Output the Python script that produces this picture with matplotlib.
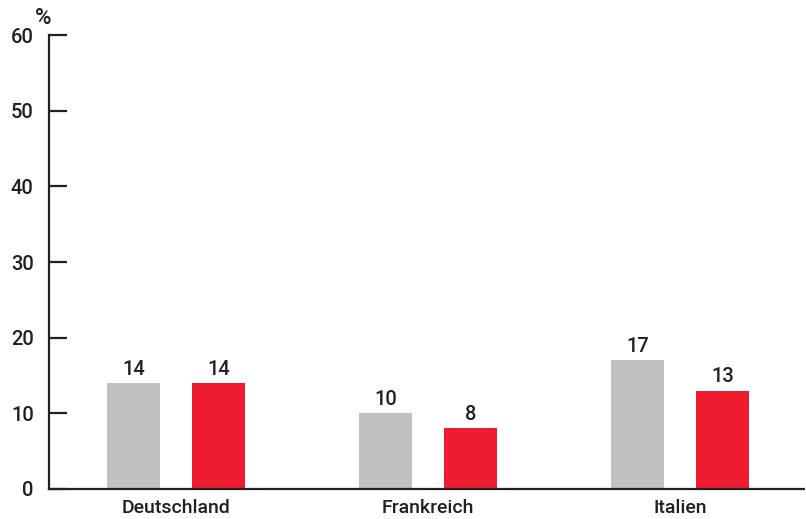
import numpy as np
import matplotlib.pyplot as plt

countries = ["Deutschland", "Frankreich", "Italien"]
grey_values = [14, 10, 17]
red_values = [14, 8, 13]
y_ticks = [0, 10, 20, 30, 40, 50, 60]

plt.rcParams["font.family"] = ["Roboto", "DejaVu Sans"]
plt.rcParams["font.weight"] = "medium"

dark = "#231f20"
grey = "#c0c1c3"
red = "#ed1c2e"

fig = plt.figure(figsize=(8.06, 5.19), dpi=100)
ax = fig.add_axes([49 / 806, 1 - 489 / 519, 755 / 806, (489 - 35) / 519])

x = np.arange(len(countries))
w = 0.21
off = 0.169
b1 = ax.bar(x - off, grey_values, w, color=grey)
b2 = ax.bar(x + off, red_values, w, color=red)

for bars in (b1, b2):
    for rect in bars:
        h = rect.get_height()
        ax.annotate(f"{h:g}", (rect.get_x() + rect.get_width() / 2, h),
                    xytext=(0, 3), textcoords="offset points",
                    ha="center", va="bottom", fontsize=14.5, color=dark)

ax.set_xlim(-0.504, 2.492)
ax.set_ylim(0, 60)
ax.set_yticks(y_ticks)
ax.set_xticks(x)
ax.set_xticklabels(countries)

for s in ("top", "right"):
    ax.spines[s].set_visible(False)
for s in ("left", "bottom"):
    ax.spines[s].set_color(dark)
    ax.spines[s].set_linewidth(1.6)

ax.tick_params(axis="y", direction="in", length=13, width=1.6, color=dark,
               labelsize=14.5, labelcolor=dark, pad=11)
ax.tick_params(axis="x", length=0, labelsize=14, labelcolor=dark, pad=7)

fig.text(43 / 806, 1 - 19 / 519, "%", ha="center", va="center",
         fontsize=16, color=dark)

fig.savefig("out.png", dpi=100)
